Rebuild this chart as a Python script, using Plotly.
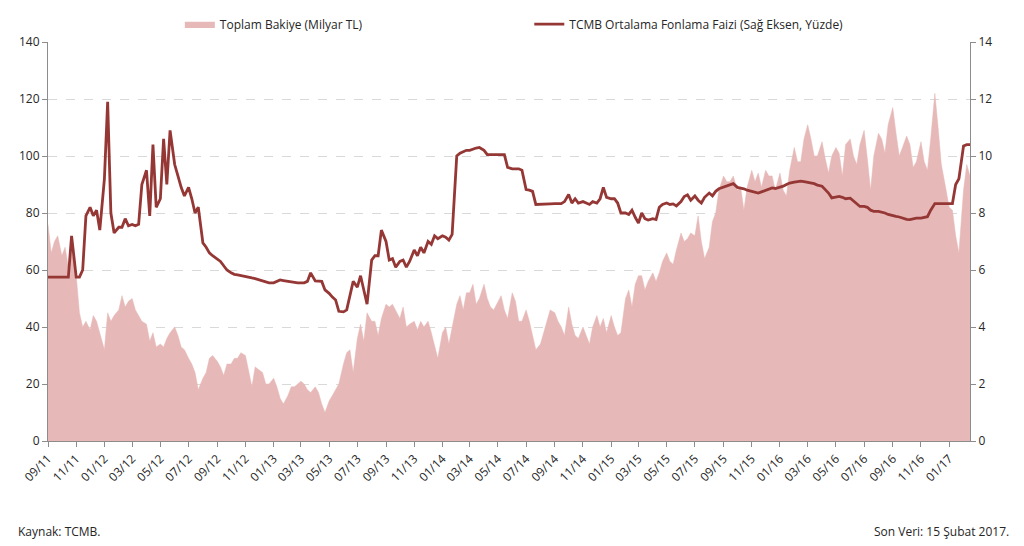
import pandas as pd
import plotly.graph_objects as go

AREA_COLOR = "#E6B8B7"
LINE_COLOR = "#953735"
TEXT = "#262626"
AXIS = "#8C8C8C"
GRID = "#D9D9D9"

# weekly readings (days 1, 8, 15, 22 of each month), Sep 2011 .. 15 Feb 2017
balance_2011 = [
    76, 66, 70, 72,   65, 68, 61, 67,   58, 45, 40, 42,   39, 44, 42, 38,
]
balance_2012 = [
    32, 45, 42, 44,   46, 51, 47, 49,   50, 46, 44, 42,   41, 35, 38, 33,
    34, 33, 36, 38,   40, 37, 33, 32,   29, 27, 24, 18,   22, 24, 29, 30,
    28, 26, 23, 27,   27, 29, 29, 31,   30, 25, 19, 26,   25, 24, 20, 20,
]
balance_2013 = [
    22, 19, 15, 13,   16, 19, 19, 20,   21, 20, 18, 17,   19, 17, 13, 10,
    14, 16, 18, 20,   27, 31, 32, 24,   36, 41, 35, 45,   42, 42, 37, 43,
    48, 47, 48, 46,   43, 47, 40, 41,   42, 39, 42, 40,   42, 38, 33, 29,
]
balance_2014 = [
    38, 40, 34, 40,   48, 51, 46, 52,   52, 55, 48, 50,   55, 50, 47, 46,
    49, 51, 46, 43,   52, 49, 42, 42,   46, 42, 37, 32,   34, 38, 42, 46,
    45, 42, 40, 37,   47, 41, 37, 36,   40, 37, 34, 40,   44, 40, 43, 38,
]
balance_2015 = [
    44, 40, 37, 38,   50, 53, 47, 55,   58, 58, 53, 56,   59, 56, 59, 63,
    66, 63, 62, 67,   73, 70, 71, 73,   72, 79, 70, 64,   68, 77, 80, 88,
    93, 91, 91, 93,   88, 89, 81, 89,   95, 91, 94, 89,   95, 93, 93, 88,
]
balance_2016 = [
    94, 88, 86, 95,   103, 98, 98, 106,   111, 106, 100, 100,   105, 99, 94, 100,
    103, 101, 93, 104,   106, 100, 97, 104,   109, 99, 88, 100,   108, 106, 101, 111,
    117, 108, 100, 103,   107, 104, 96, 98,   105, 98, 95, 106,   122, 110, 97, 91,
]
balance_2017 = [
    82, 81, 72, 66,   88, 97, 93,
]

rate_2011 = [
    5.75, 5.75, 5.75, 5.75,   5.75, 5.75, 5.75, 7.2,   5.75, 5.75, 6.0, 7.9,
    8.2, 7.9, 8.1, 7.4,
]
rate_2012 = [
    9.2, 11.9, 8.0, 7.3,   7.5, 7.5, 7.8, 7.55,   7.6, 7.55, 7.6, 9.0,
    9.5, 7.9, 10.4, 8.2,   8.5, 10.6, 9.0, 10.9,   9.7, 9.3, 8.9, 8.6,
    8.9, 8.5, 8.0, 8.2,   6.95, 6.8, 6.6, 6.5,   6.4, 6.3, 6.15, 6.0,
    5.9, 5.85, 5.83, 5.8,   5.78, 5.75, 5.72, 5.7,   5.65, 5.62, 5.58, 5.55,
]
rate_2013 = [
    5.55, 5.6, 5.65, 5.63,   5.6, 5.58, 5.57, 5.55,   5.55, 5.55, 5.6, 5.9,
    5.62, 5.6, 5.6, 5.3,   5.18, 5.05, 4.95, 4.55,   4.53, 4.6, 5.1, 5.6,
    5.4, 5.8, 5.3, 4.8,   6.35, 6.5, 6.5, 7.4,   7.0, 6.35, 6.4, 6.1,
    6.3, 6.35, 6.1, 6.3,   6.7, 6.5, 6.8, 6.6,   7.0, 6.9, 7.2, 7.1,
]
rate_2014 = [
    7.2, 7.15, 7.05, 7.25,   10.0, 10.1, 10.15, 10.2,   10.2, 10.25, 10.28, 10.3,
    10.2, 10.05, 10.05, 10.05,   10.05, 10.05, 10.05, 9.6,   9.55, 9.55, 9.55, 9.5,
    8.82, 8.8, 8.76, 8.3,   8.3, 8.32, 8.32, 8.32,   8.33, 8.33, 8.33, 8.4,
    8.65, 8.35, 8.5, 8.35,   8.4, 8.35, 8.3, 8.4,   8.35, 8.5, 8.9, 8.55,
]
rate_2015 = [
    8.5, 8.5, 8.35, 8.0,   8.0, 7.95, 8.1, 7.85,   7.65, 8.0, 7.8, 7.75,
    7.8, 7.77, 8.2, 8.3,   8.35, 8.3, 8.32, 8.25,   8.4, 8.58, 8.64, 8.45,
    8.6, 8.45, 8.35, 8.55,   8.7, 8.6, 8.76, 8.85,   8.9, 8.94, 8.98, 9.03,
    8.9, 8.88, 8.85, 8.8,   8.76, 8.72, 8.7, 8.74,   8.8, 8.85, 8.88, 8.86,
]
rate_2016 = [
    8.9, 8.94, 9.0, 9.05,   9.08, 9.1, 9.12, 9.1,   9.08, 9.05, 9.03, 8.98,
    8.94, 8.82, 8.7, 8.53,   8.56, 8.58, 8.55, 8.5,   8.52, 8.42, 8.35, 8.23,
    8.23, 8.2, 8.1, 8.06,   8.06, 8.04, 8.0, 7.95,   7.9, 7.88, 7.86, 7.82,
    7.78, 7.77, 7.8, 7.82,   7.82, 7.84, 7.87, 8.1,   8.33, 8.33, 8.33, 8.33,
]
rate_2017 = [
    8.33, 8.33, 9.0, 9.2,   10.35, 10.4, 10.4,
]

balance = balance_2011 + balance_2012 + balance_2013 + balance_2014 + balance_2015 + balance_2016 + balance_2017
rate = rate_2011 + rate_2012 + rate_2013 + rate_2014 + rate_2015 + rate_2016 + rate_2017

dates = []
for month in pd.period_range("2011-09", "2017-02", freq="M"):
    for day in (1, 8, 15, 22):
        dates.append(month.start_time + pd.Timedelta(days=day - 1))
dates = dates[: len(balance)]

fig = go.Figure()
fig.add_trace(
    go.Scatter(
        x=dates,
        y=balance,
        mode="lines",
        fill="tozeroy",
        fillcolor=AREA_COLOR,
        line=dict(color=AREA_COLOR, width=0.5),
        name="Toplam Bakiye (Milyar TL)",
        legend="legend",
    )
)
fig.add_trace(
    go.Scatter(
        x=dates,
        y=rate,
        mode="lines",
        line=dict(color=LINE_COLOR, width=2.8),
        name="TCMB Ortalama Fonlama Faizi (Sağ Eksen, Yüzde)",
        yaxis="y2",
        legend="legend2",
    )
)

# page body keeps its default 8px margin, so the figure is sized to fit inside it
fig.update_layout(
    width=1016,
    height=538,
    paper_bgcolor="white",
    plot_bgcolor="white",
    font=dict(family="Open Sans", size=12, color=TEXT),
    margin=dict(l=40, r=54, t=34, b=105, autoexpand=False),
    showlegend=True,
    legend=dict(orientation="h", x=0.143, y=1.045, xanchor="left", yanchor="middle",
                font=dict(size=12), itemwidth=30, bgcolor="rgba(0,0,0,0)"),
    legend2=dict(orientation="h", x=0.522, y=1.045, xanchor="left", yanchor="middle",
                 font=dict(size=12), itemwidth=30, bgcolor="rgba(0,0,0,0)"),
    xaxis=dict(
        range=[pd.Timestamp("2011-09-01"), pd.Timestamp("2017-02-15")],
        tick0="2011-09-01",
        dtick="M2",
        tickformat="%m/%y",
        tickangle=-45,
        ticks="outside",
        ticklen=5,
        tickcolor=AXIS,
        showline=True,
        linecolor=AXIS,
        showgrid=False,
        automargin=False,
        tickfont=dict(size=12),
    ),
    yaxis=dict(
        range=[0, 140],
        dtick=20,
        ticks="outside",
        ticklen=5,
        tickcolor=AXIS,
        showline=True,
        linecolor=AXIS,
        gridcolor=GRID,
        griddash="dash",
        zeroline=False,
        automargin=False,
        tickfont=dict(size=12),
    ),
    yaxis2=dict(
        range=[0, 14],
        dtick=2,
        overlaying="y",
        side="right",
        ticks="outside",
        ticklen=5,
        tickcolor=AXIS,
        showline=True,
        linecolor=AXIS,
        showgrid=False,
        zeroline=False,
        automargin=False,
        tickfont=dict(size=12),
    ),
)

fig.add_annotation(text="Kaynak: TCMB.", xref="paper", yref="paper", x=-0.035, y=-0.228,
                   xanchor="left", yanchor="middle", showarrow=False, font=dict(size=12))
fig.add_annotation(text="Son Veri: 15 Şubat 2017.", xref="paper", yref="paper", x=1.045, y=-0.228,
                   xanchor="right", yanchor="middle", showarrow=False, font=dict(size=12))

fig.write_html("out.html")
